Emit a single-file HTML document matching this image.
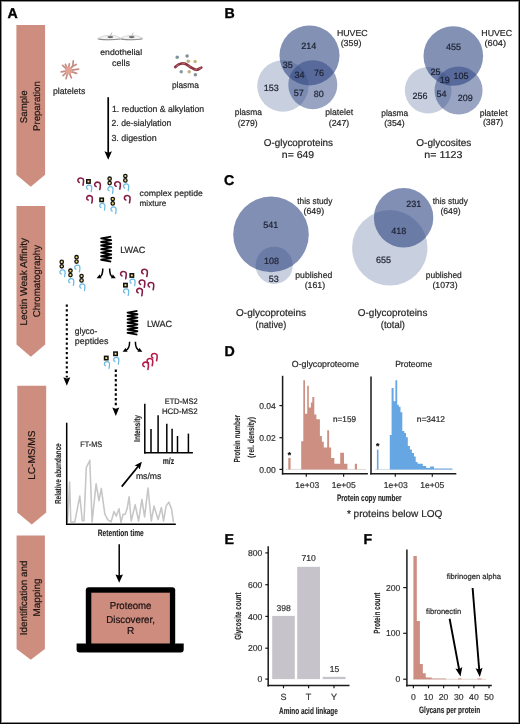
<!DOCTYPE html>
<html><head><meta charset="utf-8"><title>Figure</title>
<style>
html,body{margin:0;padding:0;background:#fff;}
body{width:520px;height:724px;overflow:hidden;}
svg{display:block;font-family:"Liberation Sans", sans-serif;will-change:transform;text-rendering:geometricPrecision;}
</style></head>
<body>
<svg width="520" height="724" viewBox="0 0 520 724" font-family='"Liberation Sans", sans-serif' fill="#262626">
<rect x="0" y="0" width="520" height="724" fill="#fff"/>
<path d="M16.4,25 H45.1 V174.8 L30.75,186.8 L16.4,174.8 Z" fill="#cd8e7f"/>
<path d="M16.5,206 H45.2 V344.5 L30.85,356.8 L16.5,344.5 Z" fill="#cd8e7f"/>
<path d="M17.3,385.8 H46.2 V512.4 L31.75,524.4 L17.3,512.4 Z" fill="#cd8e7f"/>
<path d="M16.6,535.5 H44.9 V649 L30.75,659.8 L16.6,649 Z" fill="#cd8e7f"/>
<text transform="translate(26.7,123.2) rotate(-90)" x="0" y="0" font-size="9.7" textLength="32.8" lengthAdjust="spacingAndGlyphs" fill="#1e1412" stroke="#1e1412" stroke-width="0.2">Sample</text>
<text transform="translate(39.6,131.0) rotate(-90)" x="0" y="0" font-size="9.7" textLength="49.8" lengthAdjust="spacingAndGlyphs" fill="#1e1412" stroke="#1e1412" stroke-width="0.2">Preparation</text>
<text transform="translate(27.1,325.6) rotate(-90)" x="0" y="0" font-size="9.9" textLength="87.6" lengthAdjust="spacingAndGlyphs" fill="#1e1412" stroke="#1e1412" stroke-width="0.2">Lectin Weak Affinity</text>
<text transform="translate(39.9,317.3) rotate(-90)" x="0" y="0" font-size="9.9" textLength="72.4" lengthAdjust="spacingAndGlyphs" fill="#1e1412" stroke="#1e1412" stroke-width="0.2">Chromatography</text>
<text transform="translate(34.7,479.8) rotate(-90)" x="0" y="0" font-size="10" textLength="49.2" lengthAdjust="spacingAndGlyphs" fill="#1e1412" stroke="#1e1412" stroke-width="0.2">LC-MS/MS</text>
<text transform="translate(27.0,635.2) rotate(-90)" x="0" y="0" font-size="9.9" textLength="74.6" lengthAdjust="spacingAndGlyphs" fill="#1e1412" stroke="#1e1412" stroke-width="0.2">Identification and</text>
<text transform="translate(40.1,616.5) rotate(-90)" x="0" y="0" font-size="9.9" textLength="37.9" lengthAdjust="spacingAndGlyphs" fill="#1e1412" stroke="#1e1412" stroke-width="0.2">Mapping</text>
<text x="7.6" y="18.3" font-size="14.2" font-weight="bold" fill="#000" stroke="#000" stroke-width="0.35">A</text>
<text x="224.6" y="18.2" font-size="14.2" font-weight="bold" fill="#000" stroke="#000" stroke-width="0.35">B</text>
<text x="224.0" y="184.8" font-size="14.2" font-weight="bold" fill="#000" stroke="#000" stroke-width="0.35">C</text>
<text x="224.4" y="356.2" font-size="14.2" font-weight="bold" fill="#000" stroke="#000" stroke-width="0.35">D</text>
<text x="224.4" y="543.9" font-size="14.2" font-weight="bold" fill="#000" stroke="#000" stroke-width="0.35">E</text>
<text x="363.6" y="544.0" font-size="14.2" font-weight="bold" fill="#000" stroke="#000" stroke-width="0.35">F</text>
<path d="M97.4,38.800000000000004 C102.4,34.6 115.4,33.800000000000004 121.4,38.6 C115.4,40.2 103.4,40.2 97.4,38.800000000000004 Z" fill="#f3f3f3" stroke="#c4c4c4" stroke-width="0.6"/>
<path d="M98.4,39.1 Q109.4,40.5 120.4,39.0" stroke="#8e8e8e" stroke-width="1.1" fill="none"/>
<ellipse cx="110.3" cy="37.1" rx="3" ry="1.15" fill="#6e6e6e"/>
<line x1="110.7" y1="35.2" x2="111.7" y2="33.0" stroke="#b0b0b0" stroke-width="0.9" stroke-linecap="round"/>
<path d="M119.9,38.800000000000004 C124.9,34.6 137.2,33.800000000000004 143.2,38.6 C137.2,40.2 125.9,40.2 119.9,38.800000000000004 Z" fill="#f3f3f3" stroke="#c4c4c4" stroke-width="0.6"/>
<path d="M120.9,39.1 Q131.55,40.5 142.2,39.0" stroke="#8e8e8e" stroke-width="1.1" fill="none"/>
<ellipse cx="131.7" cy="37.1" rx="3" ry="1.15" fill="#6e6e6e"/>
<line x1="132.1" y1="35.2" x2="133.1" y2="33.0" stroke="#b0b0b0" stroke-width="0.9" stroke-linecap="round"/>
<text x="100.3" y="55.3" font-size="8.3" textLength="41.8" lengthAdjust="spacingAndGlyphs" stroke="#262626" stroke-width="0.2">endothelial</text>
<text x="112.0" y="65.8" font-size="8.7" textLength="18.0" lengthAdjust="spacingAndGlyphs" stroke="#262626" stroke-width="0.2">cells</text>
<g stroke="#c48e84" stroke-width="1.7" stroke-linecap="round"><line x1="68.2" y1="70.6" x2="62.6" y2="65.4"/><line x1="68.2" y1="70.6" x2="65.4" y2="64.3"/><line x1="68.2" y1="70.6" x2="69.3" y2="63.8"/><line x1="68.2" y1="70.6" x2="72.8" y2="66.1"/><line x1="68.2" y1="70.6" x2="78.6" y2="69.1"/><line x1="68.2" y1="70.6" x2="61.2" y2="71.8"/><line x1="68.2" y1="70.6" x2="63.1" y2="75.6"/><line x1="68.2" y1="70.6" x2="66.1" y2="78.6"/><line x1="68.2" y1="70.6" x2="71.4" y2="77.8"/><line x1="68.2" y1="70.6" x2="76.6" y2="73.4"/><line x1="72.6" y1="66.3" x2="73.3" y2="60.8"/><line x1="72.6" y1="66.3" x2="76.2" y2="64.4"/></g>
<circle cx="68.7" cy="70.6" r="3.6" fill="#e3a293"/>
<text x="52.9" y="93.8" font-size="8.7" textLength="32.5" lengthAdjust="spacingAndGlyphs" stroke="#262626" stroke-width="0.2">platelets</text>
<circle cx="177.2" cy="57.2" r="1.75" fill="#7d949c"/>
<circle cx="187.1" cy="56.0" r="1.75" fill="#7f8f9a"/>
<circle cx="188.3" cy="61.2" r="1.75" fill="#c4ae7e"/>
<circle cx="195.1" cy="61.5" r="1.75" fill="#c8b47e"/>
<circle cx="181.2" cy="71.7" r="1.75" fill="#8499a2"/>
<circle cx="189.2" cy="71.7" r="1.75" fill="#c4b088"/>
<circle cx="195.4" cy="74.8" r="1.75" fill="#7f9098"/>
<path d="M175.3,67 C177,65.4 178.5,64.4 180.5,63.8 C182.5,63 184.5,63.2 186.5,64.4 C188,65.4 189.5,66.6 191.5,67.7 C193.5,68.9 195.2,70.2 197,69.8 C198.6,69.4 199.8,68.3 201.3,67.6" stroke="#8c3440" stroke-width="2.7" fill="none" stroke-linecap="round"/>
<path d="M176.5,65.9 L178.5,64.8 M182.3,63.2 L184.6,63.4 M188.5,65.8 L190.6,67 M195,69.6 L196.6,69.8 M199.2,68.6 L200.6,67.9" stroke="#c2727a" stroke-width="0.9" fill="none" stroke-linecap="round"/>
<text x="171.9" y="87.7" font-size="8.7" textLength="26.9" lengthAdjust="spacingAndGlyphs" stroke="#262626" stroke-width="0.2">plasma</text>
<line x1="108.2" y1="97.2" x2="108.2" y2="153.2" stroke="#000" stroke-width="1.7"/>
<polygon points="108.20,159.70 104.45,151.20 108.20,152.70 111.95,151.20" fill="#000"/>
<text x="112.0" y="112.2" font-size="8.9" textLength="92.2" lengthAdjust="spacingAndGlyphs" stroke="#262626" stroke-width="0.2">1. reduction &amp; alkylation</text>
<text x="111.6" y="126.3" font-size="8.9" textLength="59.6" lengthAdjust="spacingAndGlyphs" stroke="#262626" stroke-width="0.2">2. de-sialylation</text>
<text x="111.4" y="140.7" font-size="8.9" textLength="45.3" lengthAdjust="spacingAndGlyphs" stroke="#262626" stroke-width="0.2">3. digestion</text>
<path d="M79.30,182.40 C77.90,182.00 77.40,180.00 78.50,178.80 C79.50,177.70 82.00,177.50 83.20,179.10 C84.00,180.40 83.50,182.60 83.00,185.20" stroke="#861c45" stroke-width="1.6" fill="none" stroke-linecap="round"/>
<path d="M87.82,189.17 C86.53,188.80 86.07,186.96 87.08,185.86 C88.00,184.84 90.30,184.66 91.40,186.13 C92.14,187.33 91.68,189.35 91.22,191.74" stroke="#6bbae3" stroke-width="1.25" fill="none" stroke-linecap="round"/>
<rect x="86.75" y="179.75" width="3.4" height="3.4" fill="#f2df7a" stroke="#111" stroke-width="1.5"/>
<path d="M96.10,186.60 C94.70,186.20 94.20,184.20 95.30,183.00 C96.30,181.90 98.80,181.70 100.00,183.30 C100.80,184.60 100.30,186.80 99.80,189.40" stroke="#861c45" stroke-width="1.6" fill="none" stroke-linecap="round"/>
<path d="M109.12,190.77 C107.83,190.40 107.37,188.56 108.38,187.46 C109.30,186.44 111.60,186.26 112.70,187.73 C113.44,188.93 112.98,190.95 112.52,193.34" stroke="#6bbae3" stroke-width="1.25" fill="none" stroke-linecap="round"/>
<circle cx="109.64999999999999" cy="178.7" r="1.7" fill="#f2df7a" stroke="#111" stroke-width="1.3"/>
<circle cx="109.64999999999999" cy="183.1" r="1.7" fill="#f2df7a" stroke="#111" stroke-width="1.3"/>
<path d="M116.10,186.20 C114.70,185.80 114.20,183.80 115.30,182.60 C116.30,181.50 118.80,181.30 120.00,182.90 C120.80,184.20 120.30,186.40 119.80,189.00" stroke="#861c45" stroke-width="1.6" fill="none" stroke-linecap="round"/>
<path d="M124.82,188.07 C123.53,187.70 123.07,185.86 124.08,184.76 C125.00,183.74 127.30,183.56 128.40,185.03 C129.14,186.23 128.68,188.25 128.22,190.64" stroke="#6bbae3" stroke-width="1.25" fill="none" stroke-linecap="round"/>
<circle cx="125.35" cy="176.0" r="1.7" fill="#f2df7a" stroke="#111" stroke-width="1.3"/>
<circle cx="125.35" cy="180.4" r="1.7" fill="#f2df7a" stroke="#111" stroke-width="1.3"/>
<path d="M88.10,200.10 C86.70,199.70 86.20,197.70 87.30,196.50 C88.30,195.40 90.80,195.20 92.00,196.80 C92.80,198.10 92.30,200.30 91.80,202.90" stroke="#861c45" stroke-width="1.6" fill="none" stroke-linecap="round"/>
<path d="M101.02,207.57 C99.73,207.20 99.27,205.36 100.28,204.26 C101.20,203.24 103.50,203.06 104.60,204.53 C105.34,205.73 104.88,207.75 104.42,210.14" stroke="#6bbae3" stroke-width="1.25" fill="none" stroke-linecap="round"/>
<rect x="99.95" y="198.15" width="3.4" height="3.4" fill="#f2df7a" stroke="#111" stroke-width="1.5"/>
<path d="M112.22,211.07 C110.93,210.70 110.47,208.86 111.48,207.76 C112.40,206.74 114.70,206.56 115.80,208.03 C116.54,209.23 116.08,211.25 115.62,213.64" stroke="#6bbae3" stroke-width="1.25" fill="none" stroke-linecap="round"/>
<circle cx="112.75" cy="199.0" r="1.7" fill="#f2df7a" stroke="#111" stroke-width="1.3"/>
<circle cx="112.75" cy="203.4" r="1.7" fill="#f2df7a" stroke="#111" stroke-width="1.3"/>
<path d="M125.80,200.00 C124.40,199.60 123.90,197.60 125.00,196.40 C126.00,195.30 128.50,195.10 129.70,196.70 C130.50,198.00 130.00,200.20 129.50,202.80" stroke="#861c45" stroke-width="1.6" fill="none" stroke-linecap="round"/>
<text x="139.6" y="195.7" font-size="8.2" textLength="63.2" lengthAdjust="spacingAndGlyphs" stroke="#262626" stroke-width="0.2">complex peptide</text>
<text x="139.6" y="206.0" font-size="8.2" textLength="26.6" lengthAdjust="spacingAndGlyphs" stroke="#262626" stroke-width="0.2">mixture</text>
<path d="M111.2,236.6 L101.2,238.39 L111.2,240.17 L101.2,241.96 L111.2,243.74 L101.2,245.53 L111.2,247.31 L101.2,249.10 L111.2,250.89 L101.2,252.67 L111.2,254.46 L101.2,256.24 L111.2,258.03 L101.2,259.81 L111.2,261.60" stroke="#000" stroke-width="1.9" fill="none" stroke-linejoin="round"/>
<text x="120.2" y="252.7" font-size="9" textLength="25.2" lengthAdjust="spacingAndGlyphs" stroke="#262626" stroke-width="0.2">LWAC</text>
<path d="M137.4,310.9 L127.6,312.59 L137.4,314.29 L127.6,315.98 L137.4,317.67 L127.6,319.36 L137.4,321.06 L127.6,322.75 L137.4,324.44 L127.6,326.14 L137.4,327.83 L127.6,329.52 L137.4,331.21 L127.6,332.91 L137.4,334.60" stroke="#000" stroke-width="1.9" fill="none" stroke-linejoin="round"/>
<text x="146.9" y="326.7" font-size="9" textLength="25.3" lengthAdjust="spacingAndGlyphs" stroke="#262626" stroke-width="0.2">LWAC</text>
<path d="M102.8,268.4 C102.8,272.9 101.6,276.1 99.6,277.0" stroke="#000" stroke-width="1.5" fill="none"/>
<polygon points="96.60,278.30 99.73,274.28 100.18,276.51 101.70,278.21" fill="#000"/>
<path d="M109.6,268.4 C109.6,272.9 110.8,276.1 112.8,277.0" stroke="#000" stroke-width="1.5" fill="none"/>
<polygon points="115.80,278.30 110.70,278.21 112.22,276.51 112.67,274.28" fill="#000"/>
<path d="M129.6,341.8 C129.6,346.3 128.4,349.6 125.6,350.5" stroke="#000" stroke-width="1.5" fill="none"/>
<polygon points="122.60,351.80 125.73,347.78 126.18,350.01 127.70,351.71" fill="#000"/>
<path d="M135.4,341.8 C135.4,346.3 136.6,349.6 139.4,350.5" stroke="#000" stroke-width="1.5" fill="none"/>
<polygon points="142.40,351.80 137.30,351.71 138.82,350.01 139.27,347.78" fill="#000"/>
<path d="M61.22,273.97 C59.93,273.60 59.47,271.76 60.48,270.66 C61.40,269.64 63.70,269.46 64.80,270.93 C65.54,272.13 65.08,274.15 64.62,276.54" stroke="#6bbae3" stroke-width="1.25" fill="none" stroke-linecap="round"/>
<circle cx="61.75" cy="261.9" r="1.7" fill="#f2df7a" stroke="#111" stroke-width="1.3"/>
<circle cx="61.75" cy="266.29999999999995" r="1.7" fill="#f2df7a" stroke="#111" stroke-width="1.3"/>
<path d="M76.02,269.27 C74.73,268.90 74.27,267.06 75.28,265.96 C76.20,264.94 78.50,264.76 79.60,266.23 C80.34,267.43 79.88,269.45 79.42,271.84" stroke="#6bbae3" stroke-width="1.25" fill="none" stroke-linecap="round"/>
<circle cx="76.55" cy="257.2" r="1.7" fill="#f2df7a" stroke="#111" stroke-width="1.3"/>
<circle cx="76.55" cy="261.59999999999997" r="1.7" fill="#f2df7a" stroke="#111" stroke-width="1.3"/>
<path d="M69.92,282.77 C68.63,282.40 68.17,280.56 69.18,279.46 C70.10,278.44 72.40,278.26 73.50,279.73 C74.24,280.93 73.78,282.95 73.32,285.34" stroke="#6bbae3" stroke-width="1.25" fill="none" stroke-linecap="round"/>
<circle cx="70.44999999999999" cy="270.7" r="1.7" fill="#f2df7a" stroke="#111" stroke-width="1.3"/>
<circle cx="70.44999999999999" cy="275.09999999999997" r="1.7" fill="#f2df7a" stroke="#111" stroke-width="1.3"/>
<path d="M81.02,288.07 C79.73,287.70 79.27,285.86 80.28,284.76 C81.20,283.74 83.50,283.56 84.60,285.03 C85.34,286.23 84.88,288.25 84.42,290.64" stroke="#6bbae3" stroke-width="1.25" fill="none" stroke-linecap="round"/>
<circle cx="81.55" cy="276.0" r="1.7" fill="#f2df7a" stroke="#111" stroke-width="1.3"/>
<circle cx="81.55" cy="280.4" r="1.7" fill="#f2df7a" stroke="#111" stroke-width="1.3"/>
<path d="M122.00,275.90 C120.60,275.50 120.10,273.50 121.20,272.30 C122.20,271.20 124.70,271.00 125.90,272.60 C126.70,273.90 126.20,276.10 125.70,278.70" stroke="#861c45" stroke-width="1.6" fill="none" stroke-linecap="round"/>
<path d="M131.22,283.17 C129.93,282.80 129.47,280.96 130.48,279.86 C131.40,278.84 133.70,278.66 134.80,280.13 C135.54,281.33 135.08,283.35 134.62,285.74" stroke="#6bbae3" stroke-width="1.25" fill="none" stroke-linecap="round"/>
<rect x="130.15" y="273.75" width="3.4" height="3.4" fill="#f2df7a" stroke="#111" stroke-width="1.5"/>
<path d="M143.10,273.70 C141.70,273.30 141.20,271.30 142.30,270.10 C143.30,269.00 145.80,268.80 147.00,270.40 C147.80,271.70 147.30,273.90 146.80,276.50" stroke="#861c45" stroke-width="1.6" fill="none" stroke-linecap="round"/>
<path d="M124.82,292.87 C123.53,292.50 123.07,290.66 124.08,289.56 C125.00,288.54 127.30,288.36 128.40,289.83 C129.14,291.03 128.68,293.05 128.22,295.44" stroke="#6bbae3" stroke-width="1.25" fill="none" stroke-linecap="round"/>
<rect x="123.75" y="283.45" width="3.4" height="3.4" fill="#f2df7a" stroke="#111" stroke-width="1.5"/>
<path d="M140.60,284.40 C139.20,284.00 138.70,282.00 139.80,280.80 C140.80,279.70 143.30,279.50 144.50,281.10 C145.30,282.40 144.80,284.60 144.30,287.20" stroke="#861c45" stroke-width="1.6" fill="none" stroke-linecap="round"/>
<path d="M149.50,286.90 C148.10,286.50 147.60,284.50 148.70,283.30 C149.70,282.20 152.20,282.00 153.40,283.60 C154.20,284.90 153.70,287.10 153.20,289.70" stroke="#861c45" stroke-width="1.6" fill="none" stroke-linecap="round"/>
<path d="M138.10,292.80 C136.70,292.40 136.20,290.40 137.30,289.20 C138.30,288.10 140.80,287.90 142.00,289.50 C142.80,290.80 142.30,293.00 141.80,295.60" stroke="#861c45" stroke-width="1.6" fill="none" stroke-linecap="round"/>
<line x1="66.8" y1="304.4" x2="66.8" y2="377.5" stroke="#000" stroke-width="2.1" stroke-dasharray="2.4 2.35"/>
<polygon points="66.80,385.80 63.30,377.20 66.80,378.50 70.30,377.20" fill="#000"/>
<line x1="115.8" y1="369.6" x2="115.8" y2="406" stroke="#000" stroke-width="2.1" stroke-dasharray="2.4 2.35"/>
<polygon points="115.80,416.00 112.30,407.40 115.80,408.70 119.30,407.40" fill="#000"/>
<text x="74.8" y="333.5" font-size="8.7" textLength="22.6" lengthAdjust="spacingAndGlyphs" stroke="#262626" stroke-width="0.2">glyco-</text>
<text x="74.8" y="343.6" font-size="8.7" textLength="33.7" lengthAdjust="spacingAndGlyphs" stroke="#262626" stroke-width="0.2">peptides</text>
<path d="M105.62,365.77 C104.33,365.40 103.87,363.56 104.88,362.46 C105.80,361.44 108.10,361.26 109.20,362.73 C109.94,363.93 109.48,365.95 109.02,368.34" stroke="#6bbae3" stroke-width="1.25" fill="none" stroke-linecap="round"/>
<rect x="104.55" y="356.35" width="3.4" height="3.4" fill="#f2df7a" stroke="#111" stroke-width="1.5"/>
<path d="M114.92,361.47 C113.63,361.10 113.17,359.26 114.18,358.16 C115.10,357.14 117.40,356.96 118.50,358.43 C119.24,359.63 118.78,361.65 118.32,364.04" stroke="#6bbae3" stroke-width="1.25" fill="none" stroke-linecap="round"/>
<rect x="113.85" y="352.05" width="3.4" height="3.4" fill="#f2df7a" stroke="#111" stroke-width="1.5"/>
<path d="M144.20,366.60 C142.80,366.20 142.30,364.20 143.40,363.00 C144.40,361.90 146.90,361.70 148.10,363.30 C148.90,364.60 148.40,366.80 147.90,369.40" stroke="#b51a4b" stroke-width="1.6" fill="none" stroke-linecap="round"/>
<path d="M148.50,362.90 C147.10,362.50 146.60,360.50 147.70,359.30 C148.70,358.20 151.20,358.00 152.40,359.60 C153.20,360.90 152.70,363.10 152.20,365.70" stroke="#b51a4b" stroke-width="1.6" fill="none" stroke-linecap="round"/>
<path d="M152.90,357.90 C151.50,357.50 151.00,355.50 152.10,354.30 C153.10,353.20 155.60,353.00 156.80,354.60 C157.60,355.90 157.10,358.10 156.60,360.70" stroke="#b51a4b" stroke-width="1.6" fill="none" stroke-linecap="round"/>
<polyline points="67.5,522 69.6,482.1 70.8,521.9 74.8,521.9 79.8,496 82.3,520.7 84,520.7 86.3,467.7 88,464.2 89.8,460.2 92.1,521.9 96.1,483.8 99,500.6 101.3,488.4 104.8,513.8 107.7,519.6 111.1,521.9 114,511.5 116.3,516.1 119,508.8 121,522.3 123.1,514.2 125.1,514.2 127.1,508.8 129.1,496.7 131.2,521 135.2,504.8 138.6,521 141.9,499.4 144.6,516.9 148,488 151.3,521 154,506.1 158.1,519.6 161.4,507.5 163.5,521 166.1,506.1 168.8,502.1 171.5,508.8 173.5,522.3" fill="none" stroke="#c6c6c6" stroke-width="1.55" stroke-linejoin="round"/>
<line x1="66.7" y1="422.7" x2="66.7" y2="525" stroke="#000" stroke-width="1.5"/>
<line x1="66" y1="524.3" x2="175.8" y2="524.3" stroke="#000" stroke-width="1.6"/>
<text transform="translate(61.2,504.1) rotate(-90)" x="0" y="0" font-size="8.6" textLength="60.8" lengthAdjust="spacingAndGlyphs" font-weight="bold" stroke="#262626" stroke-width="0.12">Relative abundance</text>
<text x="97.8" y="536.2" font-size="9.2" textLength="46" lengthAdjust="spacingAndGlyphs" font-weight="bold" stroke="#262626" stroke-width="0.12">Retention time</text>
<text x="80.2" y="446.9" font-size="8" textLength="21.9" lengthAdjust="spacingAndGlyphs" stroke="#262626" stroke-width="0.2">FT-MS</text>
<line x1="121.7" y1="486.6" x2="138.24596885857406" y2="466.2042265060151" stroke="#000" stroke-width="1.7"/>
<polygon points="141.90,461.70 139.70,469.57 137.93,466.59 134.65,465.48" fill="#000"/>
<text x="135.9" y="478.6" font-size="8.7" textLength="25.5" lengthAdjust="spacingAndGlyphs" stroke="#262626" stroke-width="0.2">ms/ms</text>
<line x1="144.8" y1="403.7" x2="144.8" y2="453.4" stroke="#000" stroke-width="1.5"/>
<line x1="144.1" y1="452.7" x2="192.9" y2="452.7" stroke="#000" stroke-width="1.5"/>
<line x1="151" y1="429" x2="151" y2="452.7" stroke="#000" stroke-width="1.5"/>
<line x1="158.1" y1="415.2" x2="158.1" y2="452.7" stroke="#000" stroke-width="1.5"/>
<line x1="166.8" y1="423.8" x2="166.8" y2="452.7" stroke="#000" stroke-width="1.5"/>
<line x1="172.1" y1="428.8" x2="172.1" y2="452.7" stroke="#000" stroke-width="1.5"/>
<line x1="177.5" y1="436" x2="177.5" y2="452.7" stroke="#000" stroke-width="1.5"/>
<line x1="188.4" y1="433.6" x2="188.4" y2="452.7" stroke="#000" stroke-width="1.5"/>
<text transform="translate(140.2,441.9) rotate(-90)" x="0" y="0" font-size="8.6" textLength="26.9" lengthAdjust="spacingAndGlyphs" font-weight="bold" stroke="#262626" stroke-width="0.12">Intensity</text>
<text x="162.8" y="464.4" font-size="9" textLength="11.4" lengthAdjust="spacingAndGlyphs" font-weight="bold" stroke="#262626" stroke-width="0.12">m/z</text>
<text x="164.8" y="403.7" font-size="8" textLength="32.9" lengthAdjust="spacingAndGlyphs" stroke="#262626" stroke-width="0.2">ETD-MS2</text>
<text x="161.9" y="413.5" font-size="8" textLength="35.8" lengthAdjust="spacingAndGlyphs" stroke="#262626" stroke-width="0.2">HCD-MS2</text>
<line x1="119.2" y1="544.2" x2="119.2" y2="576.1" stroke="#000" stroke-width="1.5"/>
<polygon points="119.20,582.70 115.45,574.40 119.20,575.60 122.95,574.40" fill="#000"/>
<rect x="85.8" y="587.2" width="89.4" height="58" rx="3" fill="#000"/>
<rect x="91.3" y="592.7" width="78.6" height="51.4" fill="#cd8c7e"/>
<path d="M76.6,643.5 H183.7 V649.5 Q183.7,652.4 180.8,652.4 H79.5 Q76.6,652.4 76.6,649.5 Z" fill="#000"/>
<text x="130.6" y="609.3" font-size="10.1" text-anchor="middle" textLength="41.7" lengthAdjust="spacingAndGlyphs" fill="#1a1010" stroke="#1a1010" stroke-width="0.2">Proteome</text>
<text x="130.6" y="622.5" font-size="10.1" text-anchor="middle" textLength="48.7" lengthAdjust="spacingAndGlyphs" fill="#1a1010" stroke="#1a1010" stroke-width="0.2">Discoverer,</text>
<text x="130.7" y="634.3" font-size="10.1" text-anchor="middle" fill="#1a1010" stroke="#1a1010" stroke-width="0.2">R</text>
<circle cx="282.9" cy="86.0" r="25.7" fill="#29417f" fill-opacity="0.255"/>
<circle cx="309.5" cy="55.4" r="30.0" fill="#29417f" fill-opacity="0.58"/>
<circle cx="312.8" cy="84.7" r="24.5" fill="#29417f" fill-opacity="0.48"/>
<circle cx="428.2" cy="90.25" r="23.35" fill="#29417f" fill-opacity="0.255"/>
<circle cx="453.3" cy="56.0" r="29.8" fill="#29417f" fill-opacity="0.58"/>
<circle cx="458.55" cy="90.5" r="24.0" fill="#29417f" fill-opacity="0.48"/>
<text x="308.85" y="48.9" font-size="9" text-anchor="middle" fill="#1c2030" stroke="#1c2030" stroke-width="0.2">214</text>
<text x="287.75" y="68.0" font-size="9" text-anchor="middle" fill="#1c2030" stroke="#1c2030" stroke-width="0.2">35</text>
<text x="299.5" y="77.5" font-size="9" text-anchor="middle" fill="#1c2030" stroke="#1c2030" stroke-width="0.2">34</text>
<text x="319.1" y="75.8" font-size="9" text-anchor="middle" fill="#1c2030" stroke="#1c2030" stroke-width="0.2">76</text>
<text x="271.35" y="91.3" font-size="9" text-anchor="middle" fill="#1c2030" stroke="#1c2030" stroke-width="0.2">153</text>
<text x="298.65" y="96.0" font-size="9" text-anchor="middle" fill="#1c2030" stroke="#1c2030" stroke-width="0.2">57</text>
<text x="318.8" y="97.1" font-size="9" text-anchor="middle" fill="#1c2030" stroke="#1c2030" stroke-width="0.2">80</text>
<text x="453.6" y="49.8" font-size="9" text-anchor="middle" fill="#1c2030" stroke="#1c2030" stroke-width="0.2">455</text>
<text x="435.5" y="75.2" font-size="9" text-anchor="middle" fill="#1c2030" stroke="#1c2030" stroke-width="0.2">25</text>
<text x="444.7" y="83.1" font-size="9" text-anchor="middle" fill="#1c2030" stroke="#1c2030" stroke-width="0.2">19</text>
<text x="460.9" y="79.0" font-size="9" text-anchor="middle" fill="#1c2030" stroke="#1c2030" stroke-width="0.2">105</text>
<text x="419.9" y="99.2" font-size="9" text-anchor="middle" fill="#1c2030" stroke="#1c2030" stroke-width="0.2">256</text>
<text x="441.45" y="96.9" font-size="9" text-anchor="middle" fill="#1c2030" stroke="#1c2030" stroke-width="0.2">54</text>
<text x="465.15" y="100.8" font-size="9" text-anchor="middle" fill="#1c2030" stroke="#1c2030" stroke-width="0.2">209</text>
<text x="352.3" y="35.9" font-size="8.7" text-anchor="middle" textLength="30.8" lengthAdjust="spacingAndGlyphs" stroke="#262626" stroke-width="0.2">HUVEC</text>
<text x="351.0" y="45.9" font-size="8.7" text-anchor="middle" textLength="20.7" lengthAdjust="spacingAndGlyphs" stroke="#262626" stroke-width="0.2">(359)</text>
<text x="248.3" y="115.4" font-size="8.7" text-anchor="middle" textLength="27.1" lengthAdjust="spacingAndGlyphs" stroke="#262626" stroke-width="0.2">plasma</text>
<text x="247.7" y="125.8" font-size="8.7" text-anchor="middle" textLength="20.0" lengthAdjust="spacingAndGlyphs" stroke="#262626" stroke-width="0.2">(279)</text>
<text x="339.2" y="115.4" font-size="8.7" text-anchor="middle" textLength="27.9" lengthAdjust="spacingAndGlyphs" stroke="#262626" stroke-width="0.2">platelet</text>
<text x="339.0" y="125.5" font-size="8.7" text-anchor="middle" textLength="20.4" lengthAdjust="spacingAndGlyphs" stroke="#262626" stroke-width="0.2">(247)</text>
<text x="496.7" y="35.9" font-size="8.7" text-anchor="middle" textLength="30.8" lengthAdjust="spacingAndGlyphs" stroke="#262626" stroke-width="0.2">HUVEC</text>
<text x="495.3" y="45.9" font-size="8.7" text-anchor="middle" textLength="21.5" lengthAdjust="spacingAndGlyphs" stroke="#262626" stroke-width="0.2">(604)</text>
<text x="394.7" y="115.6" font-size="8.7" text-anchor="middle" textLength="26.9" lengthAdjust="spacingAndGlyphs" stroke="#262626" stroke-width="0.2">plasma</text>
<text x="394.4" y="125.7" font-size="8.7" text-anchor="middle" textLength="20.4" lengthAdjust="spacingAndGlyphs" stroke="#262626" stroke-width="0.2">(354)</text>
<text x="493.6" y="115.5" font-size="8.7" text-anchor="middle" textLength="27.9" lengthAdjust="spacingAndGlyphs" stroke="#262626" stroke-width="0.2">platelet</text>
<text x="493.1" y="125.4" font-size="8.7" text-anchor="middle" textLength="20.3" lengthAdjust="spacingAndGlyphs" stroke="#262626" stroke-width="0.2">(387)</text>
<text x="298.4" y="145.8" font-size="10" text-anchor="middle" textLength="69.3" lengthAdjust="spacingAndGlyphs" stroke="#262626" stroke-width="0.2">O-glycoproteins</text>
<text x="298.0" y="157.6" font-size="10" text-anchor="middle" textLength="32.3" lengthAdjust="spacingAndGlyphs" stroke="#262626" stroke-width="0.2">n= 649</text>
<text x="443.8" y="146.0" font-size="10" text-anchor="middle" textLength="55.0" lengthAdjust="spacingAndGlyphs" stroke="#262626" stroke-width="0.2">O-glycosites</text>
<text x="443.4" y="157.7" font-size="10" text-anchor="middle" textLength="38.1" lengthAdjust="spacingAndGlyphs" stroke="#262626" stroke-width="0.2">n= 1123</text>
<circle cx="271.0" cy="234.4" r="37.8" fill="#29417f" fill-opacity="0.59"/>
<circle cx="274.2" cy="265.3" r="18.6" fill="#29417f" fill-opacity="0.255"/>
<circle cx="389.8" cy="247.8" r="37.7" fill="#29417f" fill-opacity="0.255"/>
<circle cx="403.6" cy="217.7" r="29.7" fill="#29417f" fill-opacity="0.59"/>
<text x="270.85" y="228.1" font-size="9" text-anchor="middle" fill="#1c2030" stroke="#1c2030" stroke-width="0.2">541</text>
<text x="271.5" y="264.4" font-size="9" text-anchor="middle" fill="#1c2030" stroke="#1c2030" stroke-width="0.2">108</text>
<text x="273.85" y="281.7" font-size="9" text-anchor="middle" fill="#1c2030" stroke="#1c2030" stroke-width="0.2">53</text>
<text x="413.75" y="206.6" font-size="9" text-anchor="middle" fill="#1c2030" stroke="#1c2030" stroke-width="0.2">231</text>
<text x="398.85" y="234.3" font-size="9" text-anchor="middle" fill="#1c2030" stroke="#1c2030" stroke-width="0.2">418</text>
<text x="383.6" y="262.5" font-size="9" text-anchor="middle" fill="#1c2030" stroke="#1c2030" stroke-width="0.2">655</text>
<text x="314.8" y="203.5" font-size="8.7" text-anchor="middle" textLength="35.1" lengthAdjust="spacingAndGlyphs" stroke="#262626" stroke-width="0.2">this study</text>
<text x="313.8" y="214.0" font-size="8.7" text-anchor="middle" textLength="20.6" lengthAdjust="spacingAndGlyphs" stroke="#262626" stroke-width="0.2">(649)</text>
<text x="313.8" y="277.5" font-size="8.7" text-anchor="middle" textLength="37.0" lengthAdjust="spacingAndGlyphs" stroke="#262626" stroke-width="0.2">published</text>
<text x="314.9" y="288.1" font-size="8.7" text-anchor="middle" textLength="20.5" lengthAdjust="spacingAndGlyphs" stroke="#262626" stroke-width="0.2">(161)</text>
<text x="450.3" y="203.5" font-size="8.7" text-anchor="middle" textLength="35.1" lengthAdjust="spacingAndGlyphs" stroke="#262626" stroke-width="0.2">this study</text>
<text x="450.5" y="213.6" font-size="8.7" text-anchor="middle" textLength="20.2" lengthAdjust="spacingAndGlyphs" stroke="#262626" stroke-width="0.2">(649)</text>
<text x="443.8" y="277.5" font-size="8.7" text-anchor="middle" textLength="36.0" lengthAdjust="spacingAndGlyphs" stroke="#262626" stroke-width="0.2">published</text>
<text x="445.0" y="288.1" font-size="8.7" text-anchor="middle" textLength="25.1" lengthAdjust="spacingAndGlyphs" stroke="#262626" stroke-width="0.2">(1073)</text>
<text x="271.1" y="315.8" font-size="10" text-anchor="middle" textLength="70.0" lengthAdjust="spacingAndGlyphs" stroke="#262626" stroke-width="0.2">O-glycoproteins</text>
<text x="270.9" y="327.9" font-size="10" text-anchor="middle" textLength="30.6" lengthAdjust="spacingAndGlyphs" stroke="#262626" stroke-width="0.2">(native)</text>
<text x="392.6" y="316.2" font-size="10" text-anchor="middle" textLength="69.5" lengthAdjust="spacingAndGlyphs" stroke="#262626" stroke-width="0.2">O-glycoproteins</text>
<text x="392.9" y="328.4" font-size="10" text-anchor="middle" textLength="24.2" lengthAdjust="spacingAndGlyphs" stroke="#262626" stroke-width="0.2">(total)</text>
<line x1="286" y1="469.4" x2="366" y2="469.4" stroke="#d9d0cc" stroke-width="0.8"/>
<path d="M288.3,469.4 L288.3,457.9 L290.6,457.9 L290.6,469.4 Z" fill="#cd8f81"/>
<path d="M301.2,469.4 L301.2,441.3 L303.3,441.3 L303.3,380.2 L305.0,380.2 L305.0,413.7 L307.2,413.7 L307.2,385.8 L308.8,385.8 L308.8,407.5 L310.9,407.5 L310.9,402.6 L312.3,402.6 L312.3,397.1 L314.3,397.1 L314.3,414.4 L316.4,414.4 L316.4,419.2 L319.9,419.2 L319.9,436 L321.9,436 L321.9,441.7 L323.8,441.7 L323.8,447.5 L327.2,447.5 L327.2,430.2 L329.1,430.2 L329.1,447.5 L331.1,447.5 L331.1,458.1 L334.4,458.1 L334.4,463.8 L340.2,463.8 L340.2,452.8 L344.0,452.8 L344.0,463.8 L347.4,463.8 L347.4,469.4 Z" fill="#cd8f81"/>
<path d="M354.8,469.4 L354.8,463.8 L357.0,463.8 L357.0,469.4 Z" fill="#cd8f81"/>
<line x1="375" y1="469.5" x2="453" y2="469.5" stroke="#ccd6e0" stroke-width="0.8"/>
<path d="M376.9,469.5 L376.9,449.6 L378.5,449.6 L378.5,469.5 Z" fill="#66a6e2"/>
<path d="M389.8,469.5 L389.8,435.1 L391.6,435.1 L391.6,388.1 L393.6,388.1 L393.6,401.2 L395.4,401.2 L395.4,380.2 L397.2,380.2 L397.2,404.7 L398.8,404.7 L398.8,406.8 L400.5,406.8 L400.5,412.3 L402.3,412.3 L402.3,431 L404.3,431 L404.3,433 L406.0,433 L406.0,437.2 L407.8,437.2 L407.8,446.1 L409.9,446.1 L409.9,449.6 L411.9,449.6 L411.9,453 L414.0,453 L414.0,456.5 L415.7,456.5 L415.7,462 L417.6,462 L417.6,463.8 L422.8,463.8 L422.8,466 L426.2,466 L426.2,468.1 L430.1,468.1 L430.1,466.4 L434.0,466.4 L434.0,468.6 L452.2,468.6 L452.2,469.5 Z" fill="#66a6e2"/>
<line x1="282.6" y1="375.8" x2="282.6" y2="474.6" stroke="#1a1a1a" stroke-width="1.5"/>
<line x1="281.9" y1="473.8" x2="367.9" y2="473.8" stroke="#1a1a1a" stroke-width="1.5"/>
<line x1="371.0" y1="376.5" x2="371.0" y2="474.4" stroke="#1a1a1a" stroke-width="1.5"/>
<line x1="370.3" y1="473.7" x2="456.3" y2="473.7" stroke="#1a1a1a" stroke-width="1.5"/>
<line x1="279.4" y1="405.6" x2="282.6" y2="405.6" stroke="#1a1a1a" stroke-width="1.2"/>
<line x1="279.4" y1="437.7" x2="282.6" y2="437.7" stroke="#1a1a1a" stroke-width="1.2"/>
<line x1="279.4" y1="469.4" x2="282.6" y2="469.4" stroke="#1a1a1a" stroke-width="1.2"/>
<line x1="306.3" y1="473.8" x2="306.3" y2="476.8" stroke="#1a1a1a" stroke-width="1.2"/>
<line x1="343.6" y1="473.8" x2="343.6" y2="476.8" stroke="#1a1a1a" stroke-width="1.2"/>
<line x1="395.3" y1="473.8" x2="395.3" y2="476.8" stroke="#1a1a1a" stroke-width="1.2"/>
<line x1="432.3" y1="473.8" x2="432.3" y2="476.8" stroke="#1a1a1a" stroke-width="1.2"/>
<text x="275.8" y="408.8" font-size="8.5" text-anchor="end" textLength="16.6" lengthAdjust="spacingAndGlyphs" fill="#333" stroke="#333" stroke-width="0.2">0.04</text>
<text x="275.8" y="440.9" font-size="8.5" text-anchor="end" textLength="16.6" lengthAdjust="spacingAndGlyphs" fill="#333" stroke="#333" stroke-width="0.2">0.02</text>
<text x="275.8" y="472.6" font-size="8.5" text-anchor="end" textLength="16.6" lengthAdjust="spacingAndGlyphs" fill="#333" stroke="#333" stroke-width="0.2">0.00</text>
<text x="307.2" y="487.7" font-size="8.6" text-anchor="middle" textLength="24.0" lengthAdjust="spacingAndGlyphs" fill="#333" stroke="#333" stroke-width="0.2">1e+03</text>
<text x="343.7" y="487.7" font-size="8.6" text-anchor="middle" textLength="24.0" lengthAdjust="spacingAndGlyphs" fill="#333" stroke="#333" stroke-width="0.2">1e+05</text>
<text x="395.7" y="487.7" font-size="8.6" text-anchor="middle" textLength="24.0" lengthAdjust="spacingAndGlyphs" fill="#333" stroke="#333" stroke-width="0.2">1e+03</text>
<text x="432.3" y="487.7" font-size="8.6" text-anchor="middle" textLength="24.0" lengthAdjust="spacingAndGlyphs" fill="#333" stroke="#333" stroke-width="0.2">1e+05</text>
<text x="325.5" y="367.3" font-size="8.8" text-anchor="middle" textLength="67.4" lengthAdjust="spacingAndGlyphs" stroke="#262626" stroke-width="0.2">O-glycoproteome</text>
<text x="413.7" y="367.4" font-size="8.8" text-anchor="middle" textLength="37.1" lengthAdjust="spacingAndGlyphs" stroke="#262626" stroke-width="0.2">Proteome</text>
<text x="333.0" y="421.7" font-size="8.4" textLength="23.0" lengthAdjust="spacingAndGlyphs" stroke="#262626" stroke-width="0.2">n=159</text>
<text x="416.8" y="421.9" font-size="8.4" textLength="28.2" lengthAdjust="spacingAndGlyphs" stroke="#262626" stroke-width="0.2">n=3412</text>
<text x="289.5" y="458.0" font-size="8.5" text-anchor="middle" font-weight="bold" fill="#111" stroke="#111" stroke-width="0.3">*</text>
<text x="377.7" y="449.4" font-size="8.5" text-anchor="middle" font-weight="bold" fill="#111" stroke="#111" stroke-width="0.3">*</text>
<text transform="translate(240.4,462.5) rotate(-90)" x="0" y="0" font-size="8.8" textLength="47.6" lengthAdjust="spacingAndGlyphs" font-weight="bold" stroke="#262626" stroke-width="0.12">Protein number</text>
<text transform="translate(253.5,457.7) rotate(-90)" x="0" y="0" font-size="8.8" textLength="40.7" lengthAdjust="spacingAndGlyphs" font-weight="bold" stroke="#262626" stroke-width="0.12">(rel. density)</text>
<text x="337.0" y="501.4" font-size="9.3" textLength="64.6" lengthAdjust="spacingAndGlyphs" font-weight="bold" stroke="#262626" stroke-width="0.12">Protein copy number</text>
<text x="346.9" y="517.3" font-size="10" textLength="95.5" lengthAdjust="spacingAndGlyphs" stroke="#262626" stroke-width="0.2">* proteins below LOQ</text>
<rect x="272.2" y="615.9" width="22.6" height="63.200000000000045" fill="#c6c4ca"/>
<rect x="297.2" y="566.8" width="22.8" height="112.30000000000007" fill="#c6c4ca"/>
<rect x="322.7" y="676.8" width="22.9" height="2.300000000000068" fill="#c6c4ca"/>
<line x1="268.2" y1="546.3" x2="268.2" y2="686.4" stroke="#1a1a1a" stroke-width="1.5"/>
<line x1="267.5" y1="685.6" x2="349.5" y2="685.6" stroke="#1a1a1a" stroke-width="1.5"/>
<line x1="265.3" y1="552.9" x2="268.2" y2="552.9" stroke="#1a1a1a" stroke-width="1.2"/>
<text x="262.4" y="556.0" font-size="8.6" text-anchor="end" fill="#333" stroke="#333" stroke-width="0.2">800</text>
<line x1="265.3" y1="584.7" x2="268.2" y2="584.7" stroke="#1a1a1a" stroke-width="1.2"/>
<text x="262.4" y="587.8000000000001" font-size="8.6" text-anchor="end" fill="#333" stroke="#333" stroke-width="0.2">600</text>
<line x1="265.3" y1="616.4" x2="268.2" y2="616.4" stroke="#1a1a1a" stroke-width="1.2"/>
<text x="262.4" y="619.5" font-size="8.6" text-anchor="end" fill="#333" stroke="#333" stroke-width="0.2">400</text>
<line x1="265.3" y1="648.2" x2="268.2" y2="648.2" stroke="#1a1a1a" stroke-width="1.2"/>
<text x="262.4" y="651.3000000000001" font-size="8.6" text-anchor="end" fill="#333" stroke="#333" stroke-width="0.2">200</text>
<line x1="265.3" y1="679.1" x2="268.2" y2="679.1" stroke="#1a1a1a" stroke-width="1.2"/>
<text x="262.4" y="682.2" font-size="8.6" text-anchor="end" fill="#333" stroke="#333" stroke-width="0.2">0</text>
<line x1="283.5" y1="685.6" x2="283.5" y2="688.3" stroke="#1a1a1a" stroke-width="1.2"/>
<text x="283.5" y="699.5" font-size="9" text-anchor="middle" fill="#333" stroke="#333" stroke-width="0.2">S</text>
<line x1="308.6" y1="685.6" x2="308.6" y2="688.3" stroke="#1a1a1a" stroke-width="1.2"/>
<text x="308.6" y="699.5" font-size="9" text-anchor="middle" fill="#333" stroke="#333" stroke-width="0.2">T</text>
<line x1="334.0" y1="685.6" x2="334.0" y2="688.3" stroke="#1a1a1a" stroke-width="1.2"/>
<text x="334.0" y="699.5" font-size="9" text-anchor="middle" fill="#333" stroke="#333" stroke-width="0.2">Y</text>
<text x="283.6" y="610.7" font-size="8.6" text-anchor="middle" fill="#333" stroke="#333" stroke-width="0.2">398</text>
<text x="308.7" y="561.2" font-size="8.6" text-anchor="middle" fill="#333" stroke="#333" stroke-width="0.2">710</text>
<text x="334.6" y="671.7" font-size="8.6" text-anchor="middle" fill="#333" stroke="#333" stroke-width="0.2">15</text>
<text x="279.0" y="714.0" font-size="9.3" textLength="58.9" lengthAdjust="spacingAndGlyphs" font-weight="bold" stroke="#262626" stroke-width="0.12">Amino acid linkage</text>
<text transform="translate(240.8,639.8) rotate(-90)" x="0" y="0" font-size="9" textLength="47.3" lengthAdjust="spacingAndGlyphs" font-weight="bold" stroke="#262626" stroke-width="0.12">Glycosite count</text>
<line x1="413" y1="679.3" x2="486" y2="679.3" stroke="#dccfcb" stroke-width="0.8"/>
<path d="M413.4,679.3 L413.4,555.9 L416.8,555.9 L416.8,620.9 L419.9,620.9 L419.9,664.0 L422.8,664.0 L422.8,673.3 L425.7,673.3 L425.7,677.6 L431.7,677.6 L431.7,678.5 L446,678.5 L446,679.3 Z" fill="#cd8d80"/>
<path d="M458,679.3 L458,678.4 L461.5,678.4 L461.5,679.3 Z" fill="#cd8d80"/>
<path d="M477.5,679.3 L477.5,678.4 L481.5,678.4 L481.5,679.3 Z" fill="#cd8d80"/>
<line x1="406.9" y1="549.6" x2="406.9" y2="686.4" stroke="#1a1a1a" stroke-width="1.5"/>
<line x1="406.2" y1="685.6" x2="491.8" y2="685.6" stroke="#1a1a1a" stroke-width="1.5"/>
<line x1="403.2" y1="587.6" x2="406.9" y2="587.6" stroke="#1a1a1a" stroke-width="1.2"/>
<text x="400.4" y="590.7" font-size="8.6" text-anchor="end" fill="#333" stroke="#333" stroke-width="0.2">200</text>
<line x1="403.2" y1="633.3" x2="406.9" y2="633.3" stroke="#1a1a1a" stroke-width="1.2"/>
<text x="400.4" y="636.4" font-size="8.6" text-anchor="end" fill="#333" stroke="#333" stroke-width="0.2">100</text>
<line x1="403.2" y1="679.2" x2="406.9" y2="679.2" stroke="#1a1a1a" stroke-width="1.2"/>
<text x="400.4" y="682.3000000000001" font-size="8.6" text-anchor="end" fill="#333" stroke="#333" stroke-width="0.2">0</text>
<line x1="413.4" y1="685.6" x2="413.4" y2="688.3" stroke="#1a1a1a" stroke-width="1.2"/>
<text x="413.4" y="700.1" font-size="8.6" text-anchor="middle" fill="#333" stroke="#333" stroke-width="0.2">0</text>
<line x1="428.5" y1="685.6" x2="428.5" y2="688.3" stroke="#1a1a1a" stroke-width="1.2"/>
<text x="428.5" y="700.1" font-size="8.6" text-anchor="middle" fill="#333" stroke="#333" stroke-width="0.2">10</text>
<line x1="443.6" y1="685.6" x2="443.6" y2="688.3" stroke="#1a1a1a" stroke-width="1.2"/>
<text x="443.6" y="700.1" font-size="8.6" text-anchor="middle" fill="#333" stroke="#333" stroke-width="0.2">20</text>
<line x1="458.8" y1="685.6" x2="458.8" y2="688.3" stroke="#1a1a1a" stroke-width="1.2"/>
<text x="458.8" y="700.1" font-size="8.6" text-anchor="middle" fill="#333" stroke="#333" stroke-width="0.2">30</text>
<line x1="473.9" y1="685.6" x2="473.9" y2="688.3" stroke="#1a1a1a" stroke-width="1.2"/>
<text x="473.9" y="700.1" font-size="8.6" text-anchor="middle" fill="#333" stroke="#333" stroke-width="0.2">40</text>
<line x1="489.0" y1="685.6" x2="489.0" y2="688.3" stroke="#1a1a1a" stroke-width="1.2"/>
<text x="489.0" y="700.1" font-size="8.6" text-anchor="middle" fill="#333" stroke="#333" stroke-width="0.2">50</text>
<text x="419.0" y="713.0" font-size="9.3" textLength="61.2" lengthAdjust="spacingAndGlyphs" font-weight="bold" stroke="#262626" stroke-width="0.12">Glycans per protein</text>
<text transform="translate(380.2,633.7) rotate(-90)" x="0" y="0" font-size="9" textLength="41.2" lengthAdjust="spacingAndGlyphs" font-weight="bold" stroke="#262626" stroke-width="0.12">Protein count</text>
<text x="446.8" y="579.2" font-size="7.7" textLength="54.2" lengthAdjust="spacingAndGlyphs" stroke="#262626" stroke-width="0.2">fibrinogen alpha</text>
<text x="426.1" y="613.8" font-size="7.7" textLength="35.1" lengthAdjust="spacingAndGlyphs" stroke="#262626" stroke-width="0.2">fibronectin</text>
<line x1="449.6" y1="618.8" x2="459.202795473534" y2="669.7212457220427" stroke="#000" stroke-width="1.9"/>
<polygon points="460.50,676.60 455.39,668.40 459.11,669.23 462.27,667.11" fill="#000"/>
<line x1="472.6" y1="588.0" x2="479.2355519044141" y2="670.0227943740069" stroke="#000" stroke-width="1.9"/>
<polygon points="479.80,677.00 475.59,668.31 479.20,669.52 482.56,667.75" fill="#000"/>
<rect x="0.5" y="0.5" width="519" height="723" fill="none" stroke="#000" stroke-width="1"/>
<rect x="1.5" y="1.5" width="517" height="721" fill="none" stroke="#000" stroke-opacity="0.45" stroke-width="1"/>
</svg>
</body></html>
